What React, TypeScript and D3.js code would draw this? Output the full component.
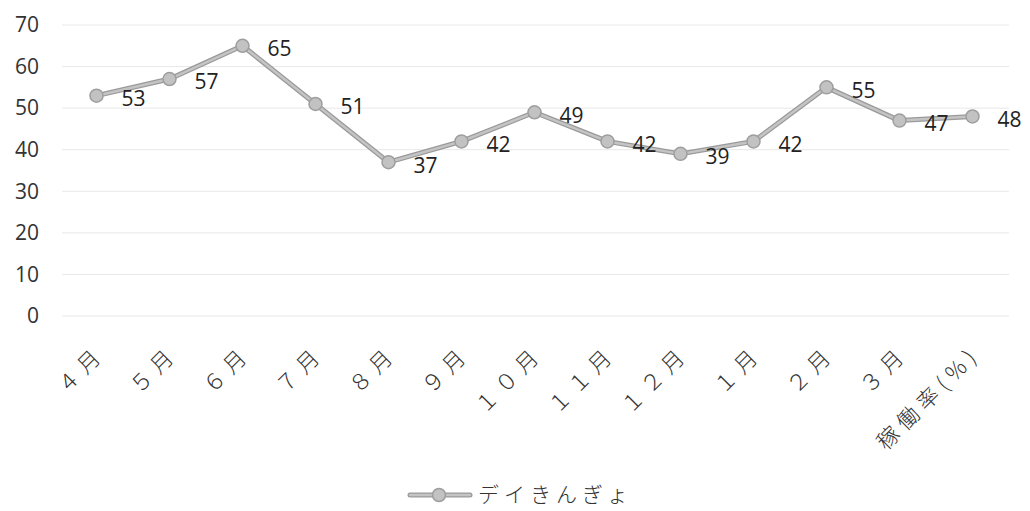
import React from "react";
import * as d3 from "d3";

const categories = ["４月", "５月", "６月", "７月", "８月", "９月", "１０月", "１１月", "１２月", "１月", "２月", "３月", "稼働率(%)"];
const values = [53, 57, 65, 51, 37, 42, 49, 42, 39, 42, 55, 47, 48];
const yTicks = [0, 10, 20, 30, 40, 50, 60, 70];
const seriesName = "デイきんぎょ";

const W = 1030, H = 511;
const left = 60, right = 1009, top = 25, bottom = 316;

export default function App() {
  const x = d3.scaleBand<string>().domain(categories).range([left, right]).padding(0);
  const y = d3.scaleLinear().domain([0, 70]).range([bottom, top]);
  const cx = (c: string) => (x(c) as number) + x.bandwidth() / 2;
  const line = d3.line<number>().x((_, i) => cx(categories[i])).y((d) => y(d));
  const path = line(values) as string;
  const jp = "'Noto Sans CJK JP', sans-serif";
  const num = "'Open Sans', 'Noto Sans', sans-serif";
  return (
    <svg width={W} height={H} style={{ position: "absolute", left: 0, top: 0, background: "#fff" }}>
      {yTicks.map((t) => (
        <g key={t}>
          <line x1={left + 2} x2={1009} y1={y(t)} y2={y(t)} stroke="#e8e8e8" strokeWidth={1} />
          <text x={39} y={y(t)} dy="0.35em" textAnchor="end" fontFamily={num} fontSize={21} fill="#333">{t}</text>
        </g>
      ))}
      <path d={path} fill="none" stroke="#9a9a9a" strokeWidth={5} strokeLinejoin="round" />
      <path d={path} fill="none" stroke="#c4c4c4" strokeWidth={2.5} strokeLinejoin="round" />
      {values.map((v, i) => (
        <g key={i}>
          <circle cx={cx(categories[i])} cy={y(v)} r={6.5} fill="#c2c2c2" stroke="#9e9e9e" strokeWidth={1.5} />
          <text x={cx(categories[i]) + 25} y={y(v) + 3} dy="0.35em" fontFamily={num} fontSize={21} fill="#222">{v}</text>
        </g>
      ))}
      {categories.map((c) => (
        <text key={c} transform={`translate(${cx(c) + 4},${bottom + 34}) rotate(-45)`} textAnchor="end" dy="0.35em"
          fontFamily={jp} fontWeight={300} fontSize={22} letterSpacing={6} fill="#333">{c}</text>
      ))}
      <line x1={410} x2={470} y1={495} y2={495} stroke="#9a9a9a" strokeWidth={5} strokeLinecap="round" />
      <line x1={410} x2={470} y1={495} y2={495} stroke="#c4c4c4" strokeWidth={2.5} strokeLinecap="round" />
      <circle cx={439} cy={495} r={6.5} fill="#c2c2c2" stroke="#9e9e9e" strokeWidth={1.5} />
      <text x={478} y={495} dy="0.35em" fontFamily={jp} fontWeight={300} fontSize={21} letterSpacing={5} fill="#333">{seriesName}</text>
    </svg>
  );
}
